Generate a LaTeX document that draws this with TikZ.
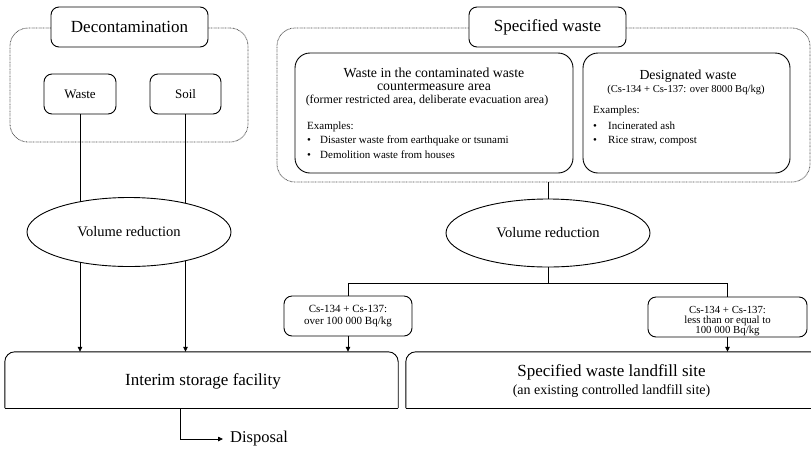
\documentclass[tikz,border=0pt]{standalone}
\usepackage{fontspec}
\setmainfont{Liberation Serif}
\usetikzlibrary{shapes.geometric,arrows.meta}
\begin{document}
\begin{tikzpicture}[x=1pt,y=-1pt,
  boxline/.style={draw=black,line width=0.9pt},
  box/.style={boxline,rounded corners=8pt,inner sep=0pt,fill=white},
  bigbox/.style={boxline,rounded corners=15pt,inner sep=0pt,fill=white},
  dotbox/.style={draw=black!70,line width=0.8pt,dash pattern=on 0.7pt off 0.7pt,rounded corners=18pt,inner sep=0pt},
  ell/.style={draw=black,ellipse,fill=white,line width=0.9pt,minimum width=204pt,minimum height=69pt,inner sep=0pt,font=\fontsize{14.5}{17}\selectfont},
  conn/.style={line width=0.8pt},
  arr/.style={conn,-{Triangle[length=5pt,width=4.5pt]}},
  bigf/.style={font=\fontsize{17}{20}\selectfont},
  hdf/.style={font=\fontsize{13.8}{16}\selectfont,inner sep=0pt},
  smf/.style={font=\fontsize{11}{13}\selectfont,inner sep=0pt},
  ]
\useasboundingbox (0,0) rectangle (811,451);
\fill[white] (0,0) rectangle (811,451);

% group containers
\node[dotbox,minimum width=238pt,minimum height=114pt] (leftgrp) at (129,85) {};
\node[dotbox,minimum width=533pt,minimum height=154pt] (rightgrp) at (543.5,105) {};

% titles
\node[box,minimum width=157pt,minimum height=40pt,bigf] (decon) at (129.5,27) {Decontamination};
\node[box,minimum width=157pt,minimum height=40pt,bigf] (spec) at (547.5,27) {Specified waste};

% left group
\node[box,minimum width=72pt,minimum height=40pt,font=\fontsize{13}{15}\selectfont] (waste) at (80,94) {Waste};
\node[box,minimum width=71pt,minimum height=40pt,font=\fontsize{13}{15}\selectfont] (soil) at (185.5,94) {Soil};

% right group inner boxes
\node[bigbox,minimum width=278pt,minimum height=120pt] (contam) at (434,113) {};
\node[hdf] (c1) at (434,73) {Waste in the contaminated waste};
\node[hdf] (c2) at (434,86.5) {countermeasure area};
\node[inner sep=0pt,font=\fontsize{12}{14}\selectfont] (c3) at (427,100.5) {(former restricted area, deliberate evacuation area)};
\node[smf,anchor=west] (c4) at (307,127) {Examples:};
\node[smf,anchor=west] (c5) at (307,141) {\makebox[13pt][l]{\textbullet}Disaster waste from earthquake or tsunami};
\node[smf,anchor=west] (c6) at (307,155) {\makebox[13pt][l]{\textbullet}Demolition waste from houses};

\node[bigbox,minimum width=207pt,minimum height=120pt] (desig) at (686.5,113) {};
\node[hdf] (d1) at (688,76) {Designated waste};
\node[inner sep=0pt,font=\fontsize{10.6}{13}\selectfont] (d2) at (686,89.5) {(Cs-134 + Cs-137: over 8000 Bq/kg)};
\node[smf,anchor=west] (d3) at (593,111) {Examples:};
\node[smf,anchor=west] (d4) at (593,126) {\makebox[15pt][l]{\textbullet}Incinerated ash};
\node[smf,anchor=west] (d5) at (593,141) {\makebox[15pt][l]{\textbullet}Rice straw, compost};

% bottom facilities
\node[minimum width=393pt,minimum height=56pt,inner sep=0pt] (interim) at (201.5,380) {};
\draw[boxline,rounded corners=10pt] (interim.south west) -- (interim.north west) -- (interim.north east) -- (interim.south east);
\draw[boxline] (interim.south west) -- (interim.south east);
\node[bigf,inner sep=0pt] (interimt) at (203,381) {Interim storage facility};

\node[minimum width=416pt,minimum height=56pt,inner sep=0pt] (landfill) at (614,380) {};
\draw[boxline,rounded corners=10pt] (landfill.south west) -- (landfill.north west) -- (landfill.north east) -- (landfill.south east);
\draw[boxline] (landfill.south west) -- (landfill.south east);
\node[bigf,inner sep=0pt] (lf1) at (611.5,372) {Specified waste landfill site};
\node[font=\fontsize{14}{16}\selectfont,inner sep=0pt] (lf2) at (611.5,391) {(an existing controlled landfill site)};

% threshold boxes
\node[box,minimum width=128pt,minimum height=40pt,align=center,smf] (cs1) at (348,316) {Cs-134 + Cs-137:\\[-1pt]over 100 000 Bq/kg};
\node[box,minimum width=159pt,minimum height=40pt] (cs2) at (727.5,317) {};
\node[align=center,inner sep=0pt,font=\fontsize{10.8}{9.8}\selectfont] (cs2t) at (727.5,321) {Cs-134 + Cs-137:\\less than or equal to\\100 000 Bq/kg};

% connectors (left, behind ellipse)
\draw[arr] (waste.south) -- (waste.south |- interim.north);
\draw[arr] (soil.south) -- (soil.south |- interim.north);

% ellipses
\node[ell] (vr1) at (129,232) {Volume reduction};
\node[ell,minimum height=68pt] (vr2) at (548,233) {Volume reduction};

% right tree
\draw[conn] (vr2.north |- rightgrp.south) -- (vr2.north);
\draw[conn] (vr2.south) -- ++(0,16) coordinate (split);
\draw[conn] (cs1.north) |- (split) -| (cs2.north);
\draw[arr] (cs1.south) -- (cs1.south |- interim.north);
\draw[arr] (cs2.south) -- (cs2.south |- landfill.north);

% disposal
\node[anchor=west,inner sep=0pt,font=\fontsize{16.5}{19}\selectfont] (disp) at (230,439) {Disposal};
\draw[arr] ([xshift=-21.5pt]interim.south) |- ([xshift=-7pt]disp.west);
\end{tikzpicture}
\end{document}
